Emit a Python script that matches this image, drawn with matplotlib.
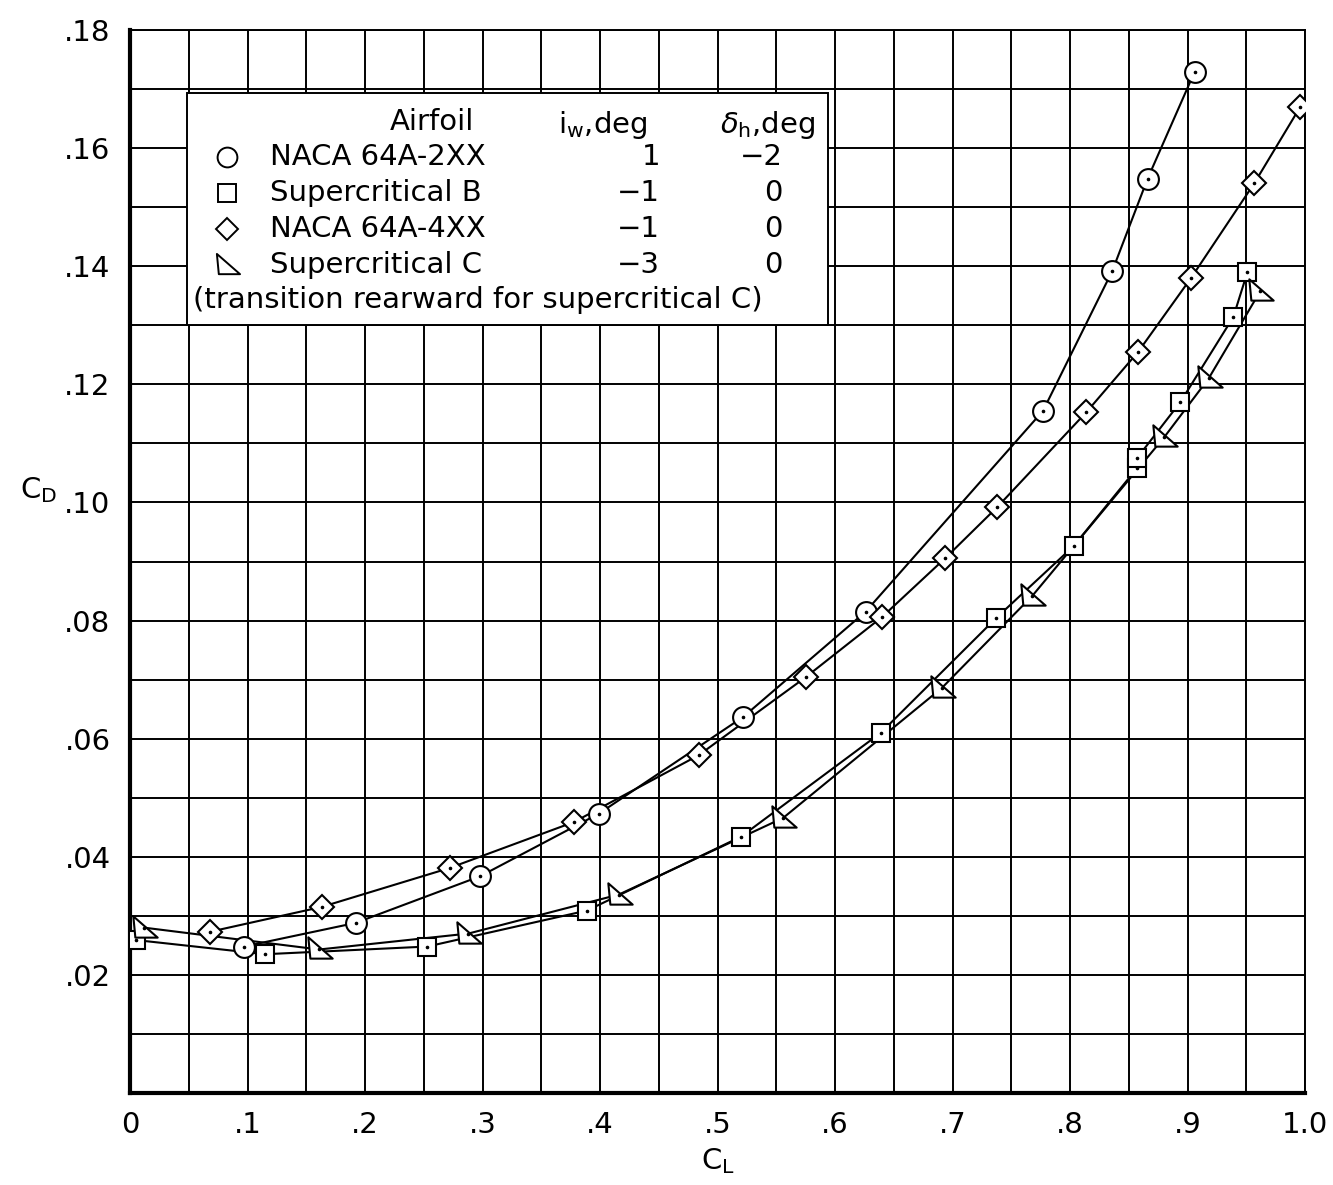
import matplotlib
matplotlib.use("Agg")
import matplotlib.pyplot as plt
from matplotlib.path import Path
from matplotlib.patches import Rectangle
import numpy as np

plt.rcParams['font.family'] = ['DejaVu Sans']
plt.rcParams['mathtext.fontset'] = 'dejavusans'

# ---- data ----
cl_naca2 = [0.097, 0.192, 0.298, 0.399, 0.522, 0.626, 0.777, 0.836, 0.866, 0.906]
cd_naca2 = [0.0248, 0.0288, 0.0367, 0.0473, 0.0637, 0.0815, 0.1155, 0.1392, 0.1548, 0.1729]

cl_scB = [0.005, 0.115, 0.253, 0.389, 0.520, 0.639, 0.737, 0.803, 0.857, 0.857, 0.894, 0.939, 0.951]
cd_scB = [0.0259, 0.0235, 0.0248, 0.0309, 0.0434, 0.0610, 0.0804, 0.0926, 0.1058, 0.1075, 0.1170, 0.1314, 0.1390]

cl_naca4 = [0.068, 0.163, 0.272, 0.378, 0.484, 0.575, 0.640, 0.694, 0.738, 0.814, 0.858, 0.903, 0.957, 0.996]
cd_naca4 = [0.0273, 0.0315, 0.0381, 0.0459, 0.0572, 0.0704, 0.0806, 0.0906, 0.0992, 0.1153, 0.1255, 0.1380, 0.1541, 0.1670]

cl_scC = [0.012, 0.161, 0.288, 0.416, 0.556, 0.691, 0.768, 0.880, 0.918, 0.962]
cd_scC = [0.0280, 0.0243, 0.0270, 0.0336, 0.0466, 0.0686, 0.0842, 0.1110, 0.1210, 0.1358]

airfoils = ['NACA 64A-2XX', 'Supercritical B', 'NACA 64A-4XX', 'Supercritical C']
iw_deg = ['1', '\u22121', '\u22121', '\u22123']
dh_deg = ['\u22122', '0', '0', '0']
note = '(transition rearward for supercritical C)'

xticks = [0, 0.1, 0.2, 0.3, 0.4, 0.5, 0.6, 0.7, 0.8, 0.9, 1.0]
xticklabels = ['0', '.1', '.2', '.3', '.4', '.5', '.6', '.7', '.8', '.9', '1.0']
yticks = [0.02, 0.04, 0.06, 0.08, 0.10, 0.12, 0.14, 0.16, 0.18]
yticklabels = ['.02', '.04', '.06', '.08', '.10', '.12', '.14', '.16', '.18']

# ---- figure ----
W, H = 1333, 1185
fig = plt.figure(figsize=(W / 100, H / 100), dpi=100)
L, R, T, B = 130, 1305, 30, 1093
ax = fig.add_axes([L / W, (H - B) / H, (R - L) / W, (B - T) / H])
ax.set_xlim(0, 1.0)
ax.set_ylim(0, 0.18)

# grid
ax.set_xticks(np.arange(0, 1.0001, 0.05), minor=True)
ax.set_yticks(np.arange(0, 0.18001, 0.01), minor=True)
ax.grid(which='both', color='black', linewidth=1.4)
ax.set_axisbelow(True)
ax.set_xticks(xticks)
ax.set_xticklabels(xticklabels)
ax.set_yticks(yticks)
ax.set_yticklabels(yticklabels)
ax.tick_params(which='both', length=0, labelsize=21)
ax.tick_params(axis='x', pad=13)
ax.tick_params(axis='y', pad=14)
for s in ['left', 'bottom']:
    ax.spines[s].set_linewidth(3.0)
for s in ['right', 'top']:
    ax.spines[s].set_linewidth(1.4)

ax.set_xlabel(r'C$_{\mathrm{L}}$', fontsize=21, labelpad=5)
ax.set_ylabel(r'C$_{\mathrm{D}}$', fontsize=21, rotation=0)
ax.yaxis.set_label_coords(-0.078, 0.553)

tri = Path([(-0.55, 0.6), (-0.45, -0.45), (0.65, -0.45), (-0.55, 0.6)],
           [Path.MOVETO, Path.LINETO, Path.LINETO, Path.CLOSEPOLY])

series = [
    (cl_naca2, cd_naca2, 'o', 15),
    (cl_scB, cd_scB, 's', 13),
    (cl_naca4, cd_naca4, 'D', 12),
    (cl_scC, cd_scC, tri, 19),
]
for x, y, m, ms in series:
    ax.plot(x, y, color='black', linewidth=1.5, zorder=3)
    ax.plot(x, y, linestyle='none', marker=m, markersize=ms, markerfacecolor='white',
            markeredgecolor='black', markeredgewidth=1.5, zorder=4)
    ax.plot(x, y, linestyle='none', marker='o', markersize=1.6, color='black', zorder=5)

# ---- legend table ----
def fx(px):
    return (px - L) / (R - L)

def fy(py):
    return (B - py) / (B - T)

ax.add_patch(Rectangle((fx(187), fy(325)), fx(828) - fx(187), fy(93) - fy(325),
                       transform=ax.transAxes, facecolor='white', edgecolor='black',
                       linewidth=1.4, zorder=6))
fs = 21
ax.text(fx(432), fy(122), 'Airfoil', transform=ax.transAxes, fontsize=fs,
        ha='center', va='center', zorder=7)
ax.text(fx(558), fy(125), r'i$_{\mathrm{w}}$,deg', transform=ax.transAxes, fontsize=fs,
        ha='left', va='center', zorder=7)
ax.text(fx(815), fy(125), r'$\delta_{\mathrm{h}}$,deg', transform=ax.transAxes, fontsize=fs,
        ha='right', va='center', zorder=7)
rows_y = [157, 193, 229, 265]
for i, (name, iw, dh) in enumerate(zip(airfoils, iw_deg, dh_deg)):
    _, _, m, ms = series[i]
    yy = fy(rows_y[i])
    ax.plot([fx(227)], [yy], transform=ax.transAxes, linestyle='none', marker=m,
            markersize=ms * 0.95, markerfacecolor='white', markeredgecolor='black',
            markeredgewidth=1.4, zorder=7, clip_on=False)
    ax.text(fx(270), yy, name, transform=ax.transAxes, fontsize=fs,
            ha='left', va='center', zorder=7)
    ax.text(fx(660), yy, iw, transform=ax.transAxes, fontsize=fs,
            ha='right', va='center', zorder=7)
    ax.text(fx(783), yy, dh, transform=ax.transAxes, fontsize=fs,
            ha='right', va='center', zorder=7)
ax.text(fx(193), fy(300), note, transform=ax.transAxes, fontsize=fs,
        ha='left', va='center', zorder=7)

fig.savefig('out.png', dpi=100, facecolor='white')
